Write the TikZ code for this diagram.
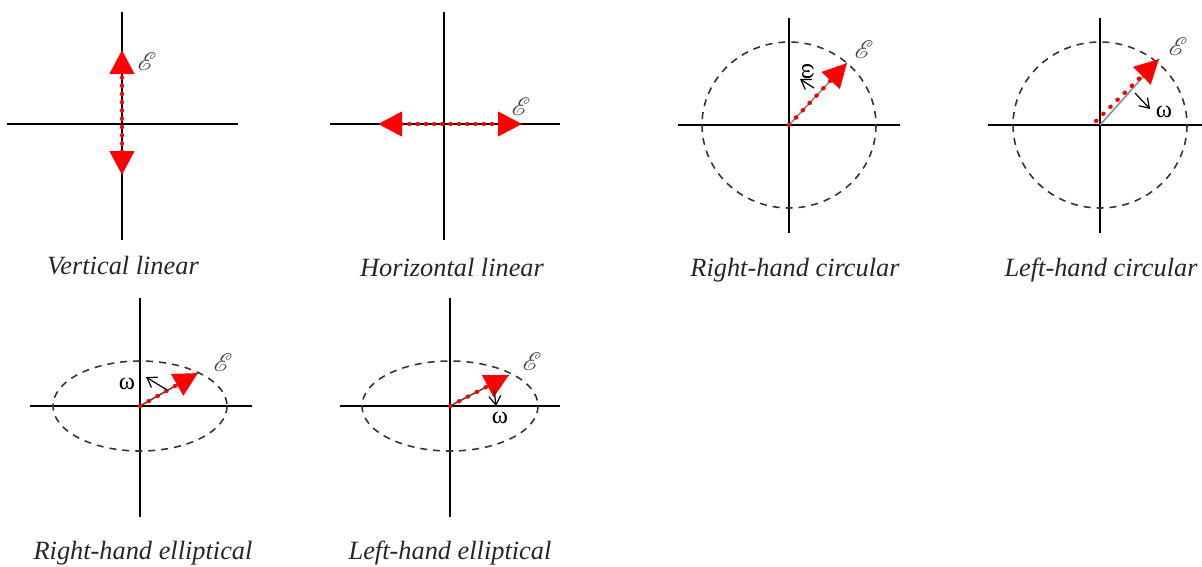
\documentclass[tikz,border=0pt]{standalone}
\usepackage{fontspec}
\setmainfont{Liberation Serif}
\usepackage{mathrsfs}
\usetikzlibrary{arrows.meta}

\begin{document}
\begin{tikzpicture}[x=0.02cm,y=-0.02cm,
		ax/.style={draw=black,line width=0.8pt},
		orb/.style={draw=black!80,line width=0.9pt,dash pattern=on 4pt off 3.4pt},
		vec/.style={draw=black!45,line width=0.9pt},
		fe/.style={draw=red,line width=2.4pt,line cap=round,dash pattern=on 0.3pt off 5.4pt,
			-{Triangle[length=4.8mm,width=4.8mm]}},
		fe2/.style={fe,dash pattern=on 0.3pt off 4.4pt,
			{Triangle[length=4.8mm,width=4.8mm]}-{Triangle[length=4.8mm,width=4.8mm]}},
		wv/.style={-{Straight Barb[length=1.8mm,width=2.4mm]},draw=black,line width=0.7pt},
		fld/.style={font=\fontsize{14}{16}\selectfont,text=black!75,inner sep=0pt},
		om/.style={font=\fontsize{14}{16}\selectfont,inner sep=0pt},
		captxt/.style={font=\fontsize{15}{18}\selectfont\itshape,text=black!85,inner sep=0pt}]
	\useasboundingbox (0,0) rectangle (1202,566);
	%% axes
	\foreach \cx/\cy/\l/\r/\t/\b in {122/124/7/238/12/240, 444/124/330/560/12/240,
		789/125/678/900/18/233, 1100/125/988/1202/18/233,
		140/406/30/252/298/517, 450/406/340/560/298/517}
		{\draw[ax] (\l,\cy) -- (\r,\cy); \draw[ax] (\cx,\t) -- (\cx,\b);}
	%% centres and field tips
	\coordinate (vlA) at (122,50);   \coordinate (vlB) at (122,175);
	\coordinate (hlA) at (378,124);  \coordinate (hlB) at (522,124);
	\coordinate (rc) at (789,125);   \coordinate (rcE) at (847,63);
	\coordinate (lc) at (1100,125);  \coordinate (lcS) at (1096,121); \coordinate (lcE) at (1159,59);
	\coordinate (re) at (140,406);   \coordinate (reE) at (198,373);
	\coordinate (le) at (450,406);   \coordinate (leE) at (509,375);
	%% orbits
	\draw[orb] (rc) ellipse[x radius=87,y radius=83];
	\draw[orb] (lc) ellipse[x radius=87,y radius=83];
	\draw[orb] (re) ellipse[x radius=87,y radius=45];
	\draw[orb] (le) ellipse[x radius=88,y radius=45];
	%% linear fields
	\draw[fe2] (vlB) -- (vlA);
	\draw[fe2] (hlA) -- (hlB);
	\node[fld] (vlL) at (147,62) {$\mathscr{E}$};
	\node[fld] (hlL) at (521,107) {$\mathscr{E}$};
	%% rotating fields
	\draw[vec] (rc) -- (rcE);  \draw[fe] (rc) -- (rcE);
	\draw[vec] (lc) -- (lcE);  \draw[fe] (lcS) -- (lcE);
	\draw[vec,draw=black!70] (re) -- (reE);  \draw[fe] (re) -- (reE);
	\draw[vec,draw=black!70] (le) -- (leE);  \draw[fe] (le) -- (leE);
	\node[fld] (rcL) at (864,50) {$\mathscr{E}$};
	\node[fld] (lcL) at (1178,47) {$\mathscr{E}$};
	\node[fld] (reL) at (223,363) {$\mathscr{E}$};
	\node[fld] (leL) at (532,362) {$\mathscr{E}$};
	%% sense of rotation
	\coordinate (rcW) at (814,88);   \coordinate (rcT) at (800,79);
	\coordinate (lcW) at (1135,93);  \coordinate (lcT) at (1150,109);
	\coordinate (reW) at (167,390);  \coordinate (reT) at (146,377);
	\coordinate (leW) at (494,389);  \coordinate (leT) at (496,406);
	\draw[wv] (rcW) -- (rcT);
	\draw[wv] (lcW) -- (lcT);
	\draw[wv] (reW) -- (reT);
	\draw[wv] (leW) -- (leT);
	\node[om,rotate=-90] (rcO) at (808,72) {ω};
	\node[om] (lcO) at (1164,112) {ω};
	\node[om] (reO) at (127,384) {ω};
	\node[om] (leO) at (500,418) {ω};
	%% captions
	\node[captxt] (vlC) at (123,266) {Vertical linear};
	\node[captxt] (hlC) at (452,267) {Horizontal linear};
	\node[captxt] (rcC) at (795,270) {Right-hand circular};
	\node[captxt] (lcC) at (1101,270) {Left-hand circular};
	\node[captxt] (reC) at (143,553) {Right-hand elliptical};
	\node[captxt] (leC) at (450,553) {Left-hand elliptical};
\end{tikzpicture}
\end{document}
